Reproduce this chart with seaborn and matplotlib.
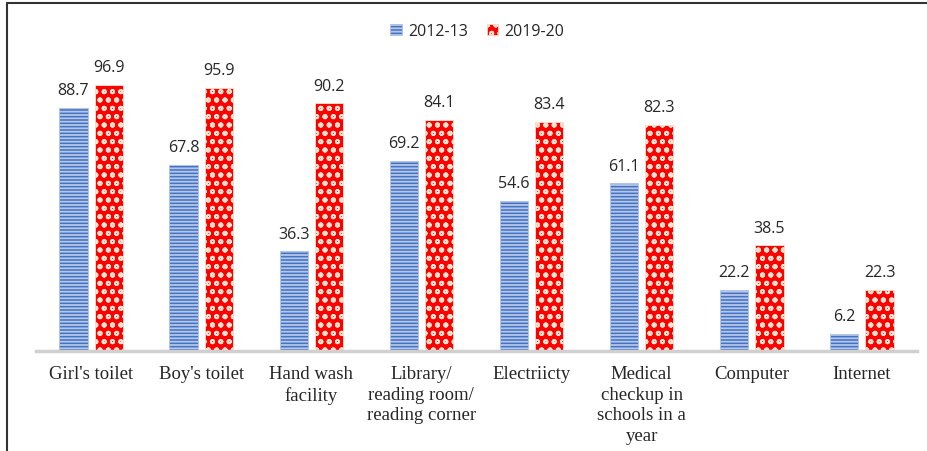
import matplotlib
matplotlib.use("Agg")
import matplotlib.pyplot as plt
import pandas as pd
import seaborn as sns

categories = ["Girl's toilet", "Boy's toilet", "Hand wash\nfacility",
              "Library/\nreading room/\nreading corner", "Electriicty",
              "Medical\ncheckup in\nschools in a\nyear", "Computer", "Internet"]
years = ["2012-13", "2019-20"]
values_2012 = [88.7, 67.8, 36.3, 69.2, 54.6, 61.1, 22.2, 6.2]
values_2019 = [96.9, 95.9, 90.2, 84.1, 83.4, 82.3, 38.5, 22.3]

df = pd.DataFrame({
    "facility": categories * 2,
    "year": [years[0]] * len(categories) + [years[1]] * len(categories),
    "value": values_2012 + values_2019,
})

sns.set_style("white")
plt.rcParams["hatch.linewidth"] = 1.3

fig = plt.figure(figsize=(9.27, 4.52), dpi=100)
ax = fig.add_axes([36 / 927, 1 - 352 / 452, 881 / 927, 292 / 452])

sns.barplot(ax=ax, data=df, x="facility", y="value", hue="year", hue_order=years,
            width=0.64, gap=0.2, palette=["#4472C4", "#FF0000"], legend=False)

styles = {
    years[0]: dict(face="#4472C4", hatch="-----", edge="#b4c7e7"),
    years[1]: dict(face="#FF0000", hatch="oo", edge="#fde3d0"),
}
for cont, yr in zip(ax.containers, years):
    for bar in cont:
        bar.set_facecolor(styles[yr]["face"])
        bar.set_edgecolor(styles[yr]["edge"])
        bar.set_hatch(styles[yr]["hatch"])
        bar.set_linewidth(0.6)
    ax.bar_label(cont, fmt="%.1f", padding=7, fontsize=11.5, family="Open Sans", color="#262626")

ax.set_ylim(0, 106.4)
ax.set_xlim(-0.5, 7.5)
ax.set_xlabel("")
ax.set_ylabel("")
ax.set_yticks([])
ax.tick_params(axis="x", length=0, pad=10)
for lbl in ax.get_xticklabels():
    lbl.set_fontfamily("Liberation Serif")
    lbl.set_fontsize(13.5)
    lbl.set_linespacing(1.28)
    lbl.set_color("#262626")
    lbl.set_verticalalignment("top")
for side in ["top", "left", "right"]:
    ax.spines[side].set_visible(False)
ax.spines["bottom"].set_color("#d0d0d0")
ax.spines["bottom"].set_linewidth(2.5)

handles = [plt.Rectangle((0, 0), 1, 1, facecolor=styles[y]["face"], edgecolor=styles[y]["edge"],
                         hatch=styles[y]["hatch"], linewidth=0.5) for y in years]
fig.legend(handles, years, loc="center", bbox_to_anchor=(0.515, 1 - 32 / 452), ncol=2, frameon=False,
           prop={"family": "Open Sans", "size": 11.5}, handlelength=0.7, handleheight=0.7,
           handletextpad=0.4, columnspacing=1.2)

# border lines on the left and top like the source frame
fig.add_artist(plt.Line2D([7 / 927, 7 / 927], [0, 1 - 4 / 452], color="#333333", lw=1.5))
fig.add_artist(plt.Line2D([7 / 927, 1], [1 - 4 / 452, 1 - 4 / 452], color="#333333", lw=1.5))

fig.savefig("out.png", dpi=100, facecolor="white")
